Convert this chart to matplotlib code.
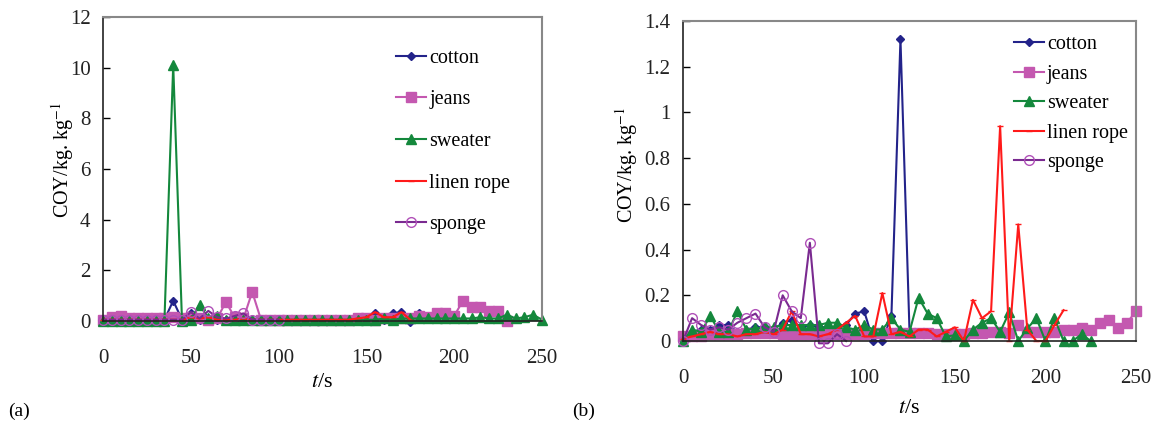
"""
coy_curves.py

CO yield versus time for five textile samples, panels (a) and (b).
"""

import numpy as np
import matplotlib

matplotlib.use("Agg")
import matplotlib.pyplot as plt
from matplotlib.ticker import FormatStrFormatter, FuncFormatter

# ---- panel (a): samples every 5 s ----
t_a = np.arange(0, 255, 5)

cotton_a = [0.05, 0.05, 0.05, 0.05, 0.05, 0.05, 0.05, 0.05, 0.8, 0.05,
            0.3, 0.05, 0.05, 0.05, 0.05, 0.05, 0.05, 0.05, 0.05, 0.05,
            0.05, 0.05, 0.05, 0.05, 0.05, 0.05, 0.05, 0.05, 0.05, 0.05,
            0.05, 0.3, 0.05, 0.3, 0.35, -0.05, 0.3]
jeans_a = [0.05, 0.15, 0.2, 0.1, 0.1, 0.1, 0.1, 0.1, 0.15, 0.1,
           0.15, 0.1, 0.05, 0.1, 0.75, 0.15, 0.1, 1.15, 0.05, 0.05,
           0.05, 0.05, 0.05, 0.05, 0.05, 0.05, 0.05, 0.05, 0.05, 0.1,
           0.1, 0.05, 0.1, 0.1, 0.1, 0.1, 0.2, 0.15, 0.3, 0.3,
           0.2, 0.8, 0.55, 0.55, 0.4, 0.4, 0.0]
sweater_a = [0.0, 0.02, 0.02, 0.02, 0.02, 0.02, 0.02, 0.02, 10.1, 0.0,
             0.05, 0.65, 0.1, 0.2, 0.05, 0.05, 0.05, 0.05, 0.05, 0.05,
             0.05, 0.05, 0.05, 0.05, 0.05, 0.05, 0.05, 0.05, 0.05, 0.05,
             0.05, 0.05, 0.1, 0.05, 0.1, 0.1, 0.1, 0.1, 0.1, 0.1,
             0.1, 0.1, 0.1, 0.15, 0.1, 0.1, 0.25, 0.1, 0.15, 0.25,
             0.05]
linen_a = [0.05, 0.05, 0.05, 0.05, 0.05, 0.05, 0.05, 0.05, 0.05, 0.05,
           0.15, 0.1, 0.15, 0.05, 0.05, 0.05, 0.1, 0.05, 0.05, 0.05,
           0.05, 0.05, 0.05, 0.05, 0.05, 0.05, 0.05, 0.05, 0.05, 0.1,
           0.15, 0.35, 0.15, 0.15, 0.35, 0.05]
sponge_a = [0.05, 0.05, 0.05, 0.05, 0.05, 0.05, 0.05, 0.05, 0.05, 0.05,
            0.35, 0.1, 0.4, 0.15, 0.1, 0.2, 0.3, 0.05, 0.05, 0.05,
            0.05]

# ---- panel (b): samples every 5 s ----
t_b = np.arange(0, 255, 5)

cotton_b = [0.02, 0.04, 0.05, 0.05, 0.07, 0.07, 0.04, 0.05, 0.06, 0.06,
            0.05, 0.08, 0.09, 0.06, 0.07, 0.06, 0.06, 0.06, 0.07, 0.12,
            0.13, 0.0, 0.0, 0.11, 1.32, 0.04]
jeans_b = [0.02, 0.02, 0.02, 0.03, 0.03, 0.03, 0.03, 0.035, 0.035, 0.035,
           0.035, 0.03, 0.03, 0.03, 0.03, 0.03, 0.03, 0.03, 0.03, 0.03,
           0.03, 0.035, 0.035, 0.035, 0.035, 0.035, 0.035, 0.035, 0.03, 0.03,
           0.03, 0.03, 0.035, 0.035, 0.04, 0.04, 0.035, 0.07, 0.04, 0.04,
           0.04, 0.04, 0.05, 0.05, 0.055, 0.05, 0.08, 0.09, 0.055, 0.08,
           0.13]
sweater_b = [0.0, 0.05, 0.04, 0.11, 0.04, 0.04, 0.13, 0.05, 0.055, 0.06,
             0.06, 0.07, 0.07, 0.07, 0.07, 0.07, 0.08, 0.08, 0.06, 0.05,
             0.07, 0.05, 0.05, 0.1, 0.05, 0.04, 0.19, 0.12, 0.1, 0.02,
             0.025, 0.0, 0.05, 0.08, 0.1, 0.04, 0.125, 0.0, 0.055, 0.1,
             0.0, 0.1, 0.0, 0.0, 0.03, 0.0]
linen_b = [0.01, 0.02, 0.03, 0.04, 0.03, 0.03, 0.02, 0.03, 0.03, 0.04,
           0.03, 0.05, 0.13, 0.03, 0.03, 0.02, 0.03, 0.05, 0.08, 0.11,
           0.02, 0.02, 0.21, 0.03, 0.04, 0.02, 0.05, 0.05, 0.02, 0.04,
           0.06, 0.0, 0.18, 0.1, 0.13, 0.94, 0.0, 0.51, 0.05, 0.0,
           0.0, 0.07, 0.135]
sponge_b = [0.0, 0.1, 0.07, 0.05, 0.06, 0.05, 0.08, 0.1, 0.12, 0.06,
            0.04, 0.2, 0.13, 0.1, 0.43, -0.01, -0.01, 0.03, 0.0]

LABELS = ["cotton", "jeans", "sweater", "linen rope", "sponge"]

SERIF = ["Liberation Serif", "DejaVu Serif"]

STYLES = {
    "cotton": dict(color="#23238A", marker="D", ms=4.5, mfc="#23238A", mec="#23238A"),
    "jeans": dict(color="#C458B0", marker="s", ms=7, mfc="#C458B0", mec="#C458B0"),
    "sweater": dict(color="#14883C", marker="^", ms=7, mfc="#14883C", mec="#14883C"),
    "linen rope": dict(color="#FF1A1A", marker="_", ms=5, mfc="#FF1A1A", mec="#FF1A1A"),
    "sponge": dict(color="#7A2A90", marker="o", ms=7, mfc="none", mec="#B050B8"),
}


def _draw_panel(ax, t, series, ymax, ystep, yfmt):
    for name, vals in zip(LABELS, series):
        st = STYLES[name]
        ax.plot(t[: len(vals)], vals, color=st["color"], lw=1.5,
                marker=st["marker"], markersize=st["ms"],
                markerfacecolor=st["mfc"], markeredgecolor=st["mec"],
                markeredgewidth=1.0, label=name, clip_on=False)

    ax.set_xlim(0, 250)
    ax.set_ylim(0, ymax)
    ax.set_xticks(np.arange(0, 251, 50))
    ax.set_yticks(np.arange(0, ymax + ystep / 2, ystep))
    ax.yaxis.set_major_formatter(yfmt)

    for side in ("left", "bottom"):
        ax.spines[side].set_color("#222222")
        ax.spines[side].set_linewidth(1.2)
    for side in ("top", "right"):
        ax.spines[side].set_color("#888888")
        ax.spines[side].set_linewidth(1.5)

    ax.tick_params(axis="y", direction="in", length=5, width=1, pad=9,
                   labelsize=15, labelcolor="#222222")
    ax.tick_params(axis="x", direction="in", length=0, pad=20,
                   labelsize=15, labelcolor="#222222")
    for lab in ax.get_xticklabels() + ax.get_yticklabels():
        lab.set_family(SERIF)

    ax.set_xlabel("$\\mathit{t}$/s", fontsize=16, family=SERIF, labelpad=6)
    ax.set_ylabel("COY/kg. kg$^{-1}$", fontsize=14.5, family=SERIF)


def main():
    plt.rcParams["mathtext.fontset"] = "stix"
    plt.rcParams["font.family"] = SERIF

    fig = plt.figure(figsize=(11.61, 4.22), dpi=100)
    fig.patch.set_facecolor("white")

    ax_a = fig.add_axes([0.0887, 0.2393, 0.3781, 0.7204])
    ax_b = fig.add_axes([0.5883, 0.1919, 0.3902, 0.7583])

    _draw_panel(ax_a, t_a, [cotton_a, jeans_a, sweater_a, linen_a, sponge_a],
                12, 2, FormatStrFormatter("%d"))
    _draw_panel(ax_b, t_b, [cotton_b, jeans_b, sweater_b, linen_b, sponge_b],
                1.4, 0.2, FuncFormatter(lambda v, _: f"{v:g}"))

    ax_a.xaxis.labelpad = 4
    ax_a.yaxis.set_label_coords(-0.062, 0.53)
    ax_b.yaxis.set_label_coords(-0.095, 0.55)
    ax_b.xaxis.labelpad = 8

    leg_kw = dict(loc="upper left", bbox_transform=fig.transFigure,
                  frameon=False, fontsize=14.5, handlelength=1.5,
                  handletextpad=0.15, borderpad=0, borderaxespad=0)
    ax_a.legend(bbox_to_anchor=(0.341, 0.885), labelspacing=1.12, **leg_kw)
    ax_b.legend(bbox_to_anchor=(0.873, 0.917), labelspacing=0.52, **leg_kw)

    fig.text(0.007, 0.015, "(a)", fontsize=14, family=SERIF)
    fig.text(0.493, 0.015, "(b)", fontsize=14, family=SERIF)

    fig.savefig("out.png", dpi=100, facecolor="white")
    plt.close(fig)


if __name__ == "__main__":
    main()
